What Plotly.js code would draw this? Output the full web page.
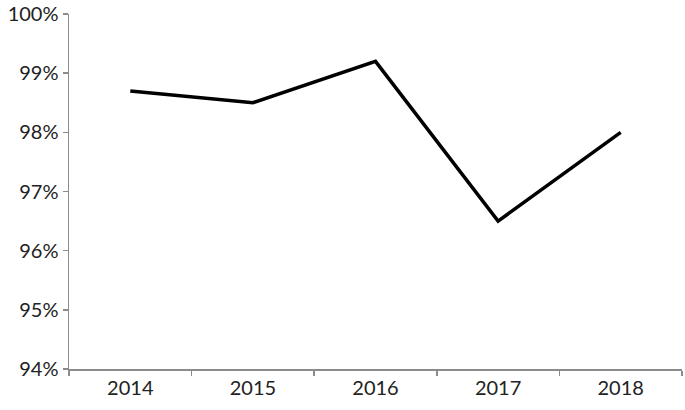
<!DOCTYPE html>
<html>
<head>
<meta charset="utf-8">
<script src="https://cdn.plot.ly/plotly-3.0.1.min.js"></script>
<style>html,body{margin:0;padding:0;background:#fff;}#chart{width:685px;height:410px;}</style>
</head>
<body>
<div id="chart"></div>
<script>
var years = ["2014", "2015", "2016", "2017", "2018"];
var rates = [0.987, 0.985, 0.992, 0.965, 0.980];
var yTicks = [0.94, 0.95, 0.96, 0.97, 0.98, 0.99, 1.00];
var yTickLabels = ["94%", "95%", "96%", "97%", "98%", "99%", "100%"];

var trace = {
  x: years,
  y: rates,
  type: "scatter",
  mode: "lines",
  line: {color: "#000000", width: 3.5},
  hoverinfo: "none"
};

var layout = {
  width: 685,
  height: 410,
  margin: {l: 69, r: 3, t: 14, b: 41},
  paper_bgcolor: "#ffffff",
  plot_bgcolor: "#ffffff",
  showlegend: false,
  font: {family: "Lato, 'Open Sans', sans-serif", size: 20, color: "#222222"},
  xaxis: {
    type: "category",
    range: [-0.5, 4.5],
    tickson: "boundaries",
    ticks: "outside",
    ticklen: 5,
    tickwidth: 1.5,
    tickcolor: "#8c8c8c",
    showline: true,
    linecolor: "#8c8c8c",
    linewidth: 1.5,
    showgrid: false,
    zeroline: false,
    fixedrange: true
  },
  yaxis: {
    range: [0.94, 1.00],
    tickvals: yTicks,
    ticktext: yTickLabels,
    ticks: "outside",
    ticklen: 5,
    tickwidth: 1.5,
    tickcolor: "#8c8c8c",
    showline: true,
    linecolor: "#8c8c8c",
    linewidth: 1.5,
    showgrid: false,
    zeroline: false,
    fixedrange: true
  }
};

Plotly.newPlot("chart", [trace], layout, {displayModeBar: false, staticPlot: true});
</script>
</body>
</html>
